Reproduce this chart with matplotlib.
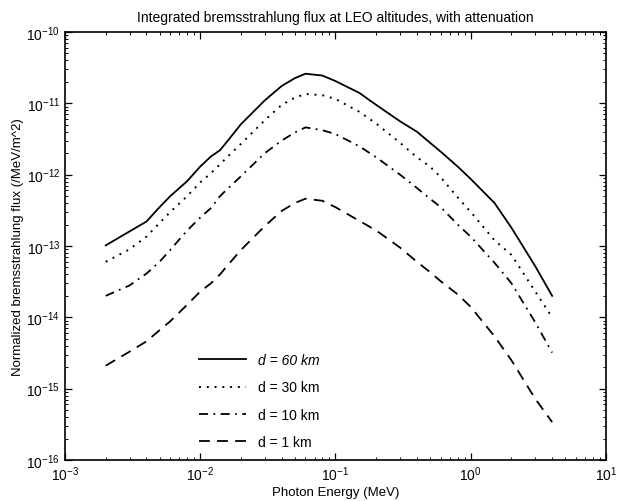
import numpy as np
import matplotlib
matplotlib.use("Agg")
import matplotlib.pyplot as plt
from matplotlib.ticker import LogLocator, NullFormatter

plt.rcParams['font.family'] = ['Liberation Sans', 'DejaVu Sans']
plt.rcParams['mathtext.default'] = 'regular'

# Photon energy grid (MeV)
energy = [0.002, 0.003, 0.004, 0.005, 0.006, 0.008, 0.01, 0.012, 0.014, 0.016,
          0.02, 0.03, 0.04, 0.05, 0.06, 0.08, 0.1, 0.15, 0.2, 0.3, 0.4, 0.5,
          0.6, 0.8, 1.0, 1.5, 2.0, 3.0, 4.0]

# Normalized flux for each attenuation depth
flux_60km = [1.02e-13, 1.6e-13, 2.2e-13, 3.5e-13, 5.0e-13, 8.1e-13, 1.3e-12, 1.8e-12,
             2.2e-12, 3.0e-12, 5.1e-12, 1.1e-11, 1.75e-11, 2.25e-11, 2.6e-11, 2.45e-11,
             2.05e-11, 1.4e-11, 9.5e-12, 5.6e-12, 4.0e-12, 2.8e-12, 2.1e-12, 1.3e-12,
             8.7e-13, 4.0e-13, 1.8e-13, 5.2e-14, 2.0e-14]
flux_30km = [6.0e-14, 9.0e-14, 1.35e-13, 2.1e-13, 3.0e-13, 5.0e-13, 7.8e-13, 1.05e-12,
             1.4e-12, 1.8e-12, 2.7e-12, 5.8e-12, 9.5e-12, 1.2e-11, 1.35e-11, 1.3e-11,
             1.15e-11, 7.6e-12, 5.2e-12, 2.8e-12, 1.75e-12, 1.3e-12, 9.2e-13, 4.8e-13,
             3.0e-13, 1.2e-13, 7.5e-14, 2.3e-14, 1.0e-14]
flux_10km = [2.0e-14, 2.8e-14, 4.1e-14, 6.0e-14, 8.8e-14, 1.65e-13, 2.5e-13, 3.4e-13,
             5.0e-13, 6.4e-13, 9.5e-13, 2.0e-12, 3.0e-12, 3.9e-12, 4.6e-12, 4.2e-12,
             3.7e-12, 2.5e-12, 1.75e-12, 1.0e-12, 6.5e-13, 4.6e-13, 3.5e-13, 2.0e-13,
             1.35e-13, 5.8e-14, 3.0e-14, 8.5e-15, 3.2e-15]
flux_1km = [2.1e-15, 3.3e-15, 4.6e-15, 6.6e-15, 8.8e-15, 1.5e-14, 2.3e-14, 3.0e-14,
            4.0e-14, 5.4e-14, 8.8e-14, 1.9e-13, 3.1e-13, 4.0e-13, 4.6e-13, 4.3e-13,
            3.5e-13, 2.25e-13, 1.65e-13, 9.5e-14, 6.0e-14, 4.3e-14, 3.2e-14, 2.1e-14,
            1.4e-14, 5.4e-15, 2.5e-15, 7.2e-16, 3.4e-16]

fig = plt.figure(figsize=(6.21, 5.02), dpi=100)
ax = fig.add_axes([0.1047, 0.0817, 0.8711, 0.8526])

ax.loglog(energy, flux_60km, color='black', lw=1.3, ls='-', label='d = 60 km')
ax.loglog(energy, flux_30km, color='black', lw=1.4, ls=(0, (1, 3)), label='d = 30 km')
ax.loglog(energy, flux_10km, color='black', lw=1.3, ls=(0, (5, 3, 1, 3)), label='d = 10 km')
ax.loglog(energy, flux_1km, color='black', lw=1.3, ls=(0, (6, 4)), label='d = 1 km')

ax.set_xlim(1e-3, 1e1)
ax.set_ylim(1e-16, 1e-10)
ax.xaxis.set_major_locator(LogLocator(base=10, numticks=10))
ax.yaxis.set_major_locator(LogLocator(base=10, numticks=10))
ax.xaxis.set_minor_locator(LogLocator(base=10, subs=np.arange(2, 10), numticks=20))
ax.yaxis.set_minor_locator(LogLocator(base=10, subs=np.arange(2, 10), numticks=20))
ax.xaxis.set_minor_formatter(NullFormatter())
ax.yaxis.set_minor_formatter(NullFormatter())
ax.tick_params(which='both', direction='in', top=True, right=True, labelsize=10)
ax.tick_params(which='major', length=5, width=0.9)
ax.tick_params(which='minor', length=2.5, width=0.7)
for s in ax.spines.values():
    s.set_linewidth(1.2)

ax.set_title('Integrated bremsstrahlung flux at LEO altitudes, with attenuation',
             fontsize=10, pad=8)
ax.set_xlabel('Photon Energy (MeV)', fontsize=9.5, labelpad=2)
ax.set_ylabel('Normalized bremsstrahlung flux (/MeV/m^2)', fontsize=9.5, labelpad=2)

leg = ax.legend(loc='lower left', bbox_to_anchor=(0.225, -0.003), frameon=False,
                fontsize=10, handlelength=3.4, handletextpad=0.8, labelspacing=0.95)
leg.get_texts()[0].set_style('italic')

fig.savefig('out.png', dpi=100)
